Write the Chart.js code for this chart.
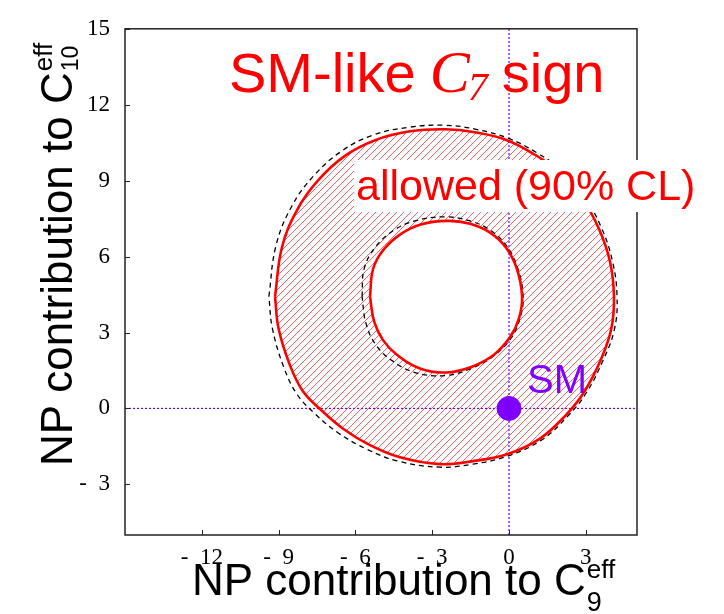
<!DOCTYPE html>
<html>
<head>
<meta charset="utf-8">
<script src="https://cdn.jsdelivr.net/npm/chart.js@4.4.1/dist/chart.umd.min.js"></script>
<style>
  html, body { margin: 0; padding: 0; background: #fff; }
  canvas { display: block; }
</style>
</head>
<body>
<canvas id="c" width="724" height="614"></canvas>
<script>
// Allowed region in the (C9, C10) new-physics plane: outer and inner 90% CL contours
const outerContour = [
  [-9.14, 4.42], [-8.87, 6.36], [-8.28, 7.84], [-7.46, 9.01], [-6.41, 9.98], [-5.23, 10.60],
  [-3.87, 10.95], [-2.50, 11.03], [-1.33, 10.91], [-0.08, 10.60], [1.02, 10.02], [1.99, 9.32],
  [2.85, 8.31], [3.52, 7.08], [3.95, 5.78], [4.10, 4.42], [4.00, 3.17], [3.59, 1.93],
  [2.93, 0.64], [2.23, -0.25], [1.21, -1.19], [-0.08, -1.81], [-1.41, -2.08], [-2.70, -2.20],
  [-4.26, -1.93], [-5.45, -1.44], [-6.48, -0.80], [-7.34, -0.06], [-8.05, 0.68], [-8.55, 1.69],
  [-9.00, 3.15]
];
const innerContour = [
  [-5.43, 4.42], [-5.31, 5.51], [-4.92, 6.25], [-4.26, 6.87], [-3.48, 7.26], [-2.42, 7.41],
  [-1.52, 7.30], [-0.74, 6.95], [-0.12, 6.36], [0.31, 5.51], [0.51, 4.42], [0.39, 3.56],
  [0.04, 2.82], [-0.59, 2.12], [-1.45, 1.65], [-2.46, 1.42], [-3.48, 1.58], [-4.38, 2.12],
  [-4.92, 2.70], [-5.27, 3.44]
];
// Dashed contours of the alternative fit
const outerDashed = [
  [-9.38, 4.42], [-9.10, 6.44], [-8.48, 8.00], [-7.62, 9.20], [-6.52, 10.18], [-5.31, 10.80],
  [-3.91, 11.11], [-2.50, 11.19], [-1.29, 11.03], [-0.04, 10.68], [1.09, 10.10], [2.07, 9.40],
  [2.93, 8.39], [3.62, 7.12], [4.05, 5.78], [4.22, 4.42], [4.12, 3.13], [3.67, 1.89],
  [3.01, 0.60], [2.27, -0.33], [1.25, -1.26], [-0.08, -1.89], [-1.41, -2.20], [-2.70, -2.32],
  [-4.34, -2.08], [-5.55, -1.61], [-6.64, -0.99], [-7.58, -0.21], [-8.28, 0.56], [-8.79, 1.61],
  [-9.24, 3.15]
];
const innerDashed = [
  [-5.74, 4.42], [-5.66, 5.51], [-5.23, 6.36], [-4.53, 7.02], [-3.67, 7.41], [-2.50, 7.57],
  [-1.52, 7.41], [-0.70, 7.02], [-0.08, 6.40], [0.35, 5.51], [0.55, 4.42], [0.43, 3.56],
  [0.08, 2.78], [-0.59, 2.08], [-1.48, 1.58], [-2.50, 1.30], [-3.67, 1.42], [-4.57, 1.89],
  [-5.20, 2.51], [-5.59, 3.37]
];
// Standard Model point
const smPoint = [0, 0];
// Axis ranges and tick labels
const xRange = [-15, 5];
const yRange = [-5, 15];
const xTicks = [-12, -9, -6, -3, 0, 3];
const yTicks = [-3, 0, 3, 6, 9, 12, 15];

const RED = '#ff0000';
const PURPLE = '#7f00ff';

const closed = pts => pts.concat([pts[0]]).map(p => ({ x: p[0], y: p[1] }));

function hatchPattern(ctx) {
  const s = 7;
  const c = document.createElement('canvas');
  c.width = s; c.height = s;
  const g = c.getContext('2d');
  g.strokeStyle = 'rgba(255,40,40,0.7)';
  g.lineWidth = 1;
  g.beginPath();
  g.moveTo(-1, s + 1); g.lineTo(s + 1, -1);
  g.moveTo(-1, 1); g.lineTo(1, -1);
  g.moveTo(s - 1, s + 1); g.lineTo(s + 1, s - 1);
  g.stroke();
  return ctx.createPattern(c, 'repeat');
}

function tracePoints(ctx, pts) {
  ctx.moveTo(pts[0].x, pts[0].y);
  for (let i = 1; i < pts.length; i++) {
    const a = pts[i - 1], b = pts[i];
    if (a.cp2x !== undefined && b.cp1x !== undefined) {
      ctx.bezierCurveTo(a.cp2x, a.cp2y, b.cp1x, b.cp1y, b.x, b.y);
    } else {
      ctx.lineTo(b.x, b.y);
    }
  }
  ctx.closePath();
}

const annulusFill = {
  id: 'annulusFill',
  beforeDatasetsDraw(chart) {
    const ctx = chart.ctx, a = chart.chartArea;
    const outer = chart.getDatasetMeta(3).data;
    const inner = chart.getDatasetMeta(2).data;
    ctx.save();
    ctx.beginPath();
    ctx.rect(a.left, a.top, a.right - a.left, a.bottom - a.top);
    ctx.clip();
    ctx.beginPath();
    tracePoints(ctx, outer);
    tracePoints(ctx, inner);
    ctx.fillStyle = hatchPattern(ctx);
    ctx.fill('evenodd');
    ctx.restore();
  }
};

const frameAndTicks = {
  id: 'frameAndTicks',
  afterDatasetsDraw(chart) {
    const ctx = chart.ctx, a = chart.chartArea;
    const xs = chart.scales.x, ys = chart.scales.y;
    ctx.save();
    ctx.strokeStyle = '#222';
    ctx.lineWidth = 1.5;
    ctx.strokeRect(a.left, a.top, a.right - a.left, a.bottom - a.top);
    ctx.lineWidth = 1;
    ctx.beginPath();
    xTicks.forEach(v => {
      const px = Math.round(xs.getPixelForValue(v)) + 0.5;
      ctx.moveTo(px, a.bottom); ctx.lineTo(px, a.bottom - 5);
    });
    yTicks.forEach(v => {
      const py = Math.round(ys.getPixelForValue(v)) + 0.5;
      ctx.moveTo(a.left, py); ctx.lineTo(a.left + 5, py);
    });
    ctx.stroke();
    ctx.restore();
  }
};

function drawRuns(ctx, x, y, runs) {
  runs.forEach(r => {
    ctx.font = r.font;
    ctx.fillText(r.text, x + (r.dx || 0), y + (r.dy || 0));
    x += ctx.measureText(r.text).width + (r.dx || 0) + (r.gap || 0);
  });
}

const annotations = {
  id: 'annotations',
  afterDraw(chart) {
    const ctx = chart.ctx;
    const xs = chart.scales.x, ys = chart.scales.y;
    ctx.save();
    ctx.textAlign = 'left';
    ctx.textBaseline = 'alphabetic';

    // headline
    ctx.fillStyle = RED;
    drawRuns(ctx, 229, 92, [
      { text: 'SM-like', font: '56px "Liberation Sans"', gap: 14 },
      { text: 'C', font: 'italic 60px "Liberation Serif"', gap: -2 },
      { text: '7', font: 'italic 40px "Liberation Serif"', dy: 8, gap: 14 },
      { text: 'sign', font: '56px "Liberation Sans"' }
    ]);

    // region label on a white box
    ctx.fillStyle = '#fff';
    ctx.fillRect(354, 160, 342, 52);
    ctx.fillStyle = RED;
    ctx.font = '43px "Liberation Sans"';
    ctx.fillText('allowed (90% CL)', 356, 200);

    // SM point label
    const px0 = xs.getPixelForValue(smPoint[0]), py0 = ys.getPixelForValue(smPoint[1]);
    ctx.fillStyle = PURPLE;
    ctx.font = '40px "Liberation Sans"';
    ctx.fillText('SM', px0 + 18, py0 - 15);

    // axis titles
    ctx.fillStyle = '#000';
    ctx.font = '44px "Liberation Sans"';
    const xt = 'NP contribution to C';
    ctx.fillText(xt, 192, 595);
    const xw = ctx.measureText(xt).width;
    ctx.font = '26px "Liberation Sans"';
    ctx.fillText('eff', 192 + xw + 1, 578);
    ctx.font = '27px "Liberation Sans"';
    ctx.fillText('9', 192 + xw + 1, 611);

    ctx.translate(72, 466);
    ctx.rotate(-Math.PI / 2);
    ctx.font = '44px "Liberation Sans"';
    const yt = 'NP contribution to C';
    ctx.fillText(yt, 0, 0);
    const yw = ctx.measureText(yt).width;
    ctx.font = '26px "Liberation Sans"';
    ctx.fillText('eff', yw + 1, -20);
    ctx.font = '23px "Liberation Sans"';
    ctx.fillText('10', yw + 1, 6);
    ctx.restore();
  }
};

const tickFont = { family: 'Liberation Serif', size: 23 };
const fmt = v => (v < 0 ? '-\u2002' + Math.abs(v) : String(v));

new Chart(document.getElementById('c'), {
  type: 'scatter',
  data: {
    datasets: [
      { // 0: SM point
        data: [{ x: smPoint[0], y: smPoint[1] }],
        pointRadius: 12, pointBackgroundColor: PURPLE, pointBorderColor: PURPLE,
        pointBorderWidth: 1, showLine: false, order: 0
      },
      { // 1: inner dashed
        data: closed(innerDashed), showLine: true, pointRadius: 0,
        borderColor: '#000', borderWidth: 1.3, borderDash: [5, 4], tension: 0.4, order: 3
      },
      { // 2: inner solid
        data: closed(innerContour), showLine: true, pointRadius: 0,
        borderColor: RED, borderWidth: 2.6, tension: 0.4, order: 2
      },
      { // 3: outer solid
        data: closed(outerContour), showLine: true, pointRadius: 0,
        borderColor: RED, borderWidth: 2.6, tension: 0.4, order: 2
      },
      { // 4: outer dashed
        data: closed(outerDashed), showLine: true, pointRadius: 0,
        borderColor: '#000', borderWidth: 1.3, borderDash: [5, 4], tension: 0.4, order: 3
      },
      { // 5: C9 = 0 line
        data: [{ x: 0, y: yRange[0] }, { x: 0, y: yRange[1] }], showLine: true, pointRadius: 0,
        borderColor: PURPLE, borderWidth: 1.2, borderDash: [2, 2], order: 4
      },
      { // 6: C10 = 0 line
        data: [{ x: xRange[0], y: 0 }, { x: xRange[1], y: 0 }], showLine: true, pointRadius: 0,
        borderColor: PURPLE, borderWidth: 1.2, borderDash: [2, 2], order: 4
      }
    ]
  },
  options: {
    responsive: false,
    animation: false,
    devicePixelRatio: 1,
    layout: { padding: { top: 21, right: 87, left: 0, bottom: 0 } },
    plugins: { legend: { display: false }, tooltip: { enabled: false } },
    scales: {
      x: {
        type: 'linear', min: xRange[0], max: xRange[1],
        grid: { display: false, drawTicks: false }, border: { display: false },
        afterBuildTicks: s => { s.ticks = xTicks.map(v => ({ value: v })); },
        afterFit: s => { s.height = 79; },
        ticks: { font: tickFont, color: '#000', padding: 9, maxRotation: 0, callback: fmt }
      },
      y: {
        type: 'linear', min: yRange[0], max: yRange[1],
        grid: { display: false, drawTicks: false }, border: { display: false },
        afterBuildTicks: s => { s.ticks = yTicks.map(v => ({ value: v })); },
        afterFit: s => { s.width = 125; },
        ticks: { font: tickFont, color: '#000', padding: 15, callback: fmt }
      }
    }
  },
  plugins: [annulusFill, frameAndTicks, annotations]
});
</script>
</body>
</html>
